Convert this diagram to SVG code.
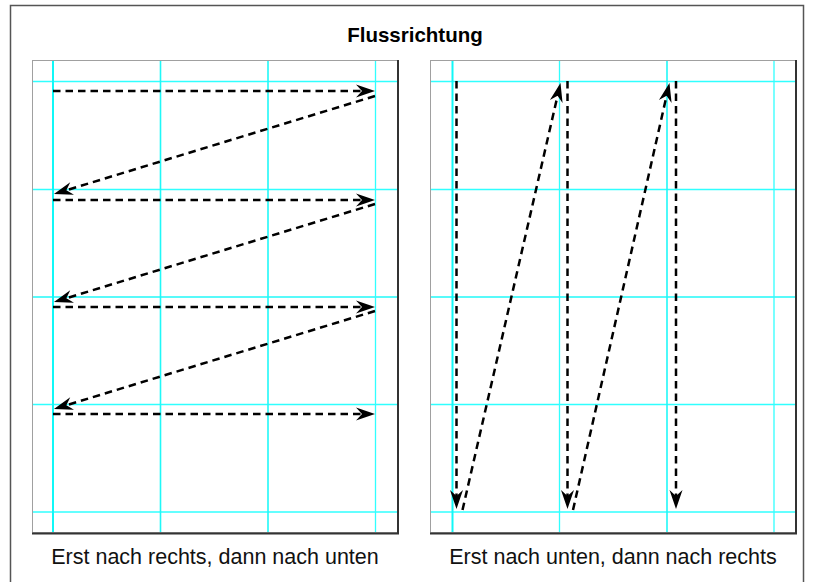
<svg xmlns="http://www.w3.org/2000/svg" width="814" height="582" viewBox="0 0 814 582">
  <style>
    .frame{fill:none;stroke:#555;stroke-width:1.5}
    .panel{fill:#fff;stroke:#a0a0a0;stroke-width:1}
    .shadow{fill:none;stroke:#333;stroke-width:2}
    .g1{stroke:#30ffff;stroke-width:1.3}
    .g2{stroke:#10f8f8;stroke-width:2}
    .g15{stroke:#20f8f8;stroke-width:1.6}
    .arr{fill:none;stroke:#000;stroke-width:2.5;stroke-dasharray:7.5 5;marker-end:url(#ah)}
    .title{font-family:"Liberation Sans",Arial,sans-serif;font-weight:bold;font-size:20.5px;fill:#000;text-anchor:middle}
    .cap{font-family:"Liberation Sans",Arial,sans-serif;font-size:21.5px;fill:#111;text-anchor:middle}
  </style>
  <defs>
    <marker id="ah" markerUnits="userSpaceOnUse" viewBox="-12 -8 22 16" markerWidth="22" markerHeight="16" refX="0" refY="0" orient="auto" overflow="visible">
      <path d="M8,0 L-11,-6.5 L-5,0 L-11,6.5 Z" fill="#000"/>
    </marker>
  </defs>
  <rect width="814" height="582" fill="#fff"/>
  <rect class="frame" x="10.5" y="5.5" width="793" height="600"/>
  <g id="title"><text class="title" x="415" y="42">Flussrichtung</text></g>

  <g id="panel-left">
    <rect class="panel" x="32.5" y="60.5" width="365" height="472"/>
    <g class="grid">
      <line class="g1" x1="33" y1="81.5" x2="397" y2="81.5"/>
      <line class="g1" x1="33" y1="189.5" x2="397" y2="189.5"/>
      <line class="g15" x1="33" y1="297" x2="397" y2="297"/>
      <line class="g1" x1="33" y1="404.5" x2="397" y2="404.5"/>
      <line class="g1" x1="33" y1="512" x2="397" y2="512"/>
      <line class="g2" x1="53" y1="61" x2="53" y2="532"/>
      <line class="g15" x1="160.5" y1="61" x2="160.5" y2="532"/>
      <line class="g15" x1="268" y1="61" x2="268" y2="532"/>
      <line class="g1" x1="375.5" y1="61" x2="375.5" y2="532"/>
    </g>
    <path class="shadow" d="M398,60 V533.5 H32"/>
    <text class="cap" x="215" y="564">Erst nach rechts, dann nach unten</text>
  </g>

  <g id="panel-right">
    <rect class="panel" x="430.5" y="60.5" width="365" height="472"/>
    <g class="grid">
      <line class="g1" x1="431" y1="81.5" x2="795" y2="81.5"/>
      <line class="g1" x1="431" y1="189.5" x2="795" y2="189.5"/>
      <line class="g15" x1="431" y1="297" x2="795" y2="297"/>
      <line class="g1" x1="431" y1="404.5" x2="795" y2="404.5"/>
      <line class="g1" x1="431" y1="512" x2="795" y2="512"/>
      <line class="g2" x1="452.5" y1="61" x2="452.5" y2="532"/>
      <line class="g1" x1="559.5" y1="61" x2="559.5" y2="532"/>
      <line class="g15" x1="667" y1="61" x2="667" y2="532"/>
      <line class="g1" x1="774" y1="61" x2="774" y2="532"/>
    </g>
    <path class="shadow" d="M796,60 V533.5 H430"/>
    <text class="cap" x="613" y="564">Erst nach unten, dann nach rechts</text>
  </g>

  <g id="connectors">
    <line class="arr" x1="53" y1="91" x2="367" y2="91"/>
    <line class="arr" x1="375" y1="96" x2="61.6" y2="191.7"/>
    <line class="arr" x1="53" y1="200" x2="367" y2="200"/>
    <line class="arr" x1="375" y1="204" x2="61.6" y2="299.7"/>
    <line class="arr" x1="53" y1="307" x2="367" y2="307"/>
    <line class="arr" x1="375" y1="311" x2="61.6" y2="406.7"/>
    <line class="arr" x1="53" y1="414" x2="367" y2="414"/>

    <line class="arr" x1="456.5" y1="81" x2="456.5" y2="501"/>
    <line class="arr" x1="462.5" y1="510" x2="558.7" y2="90.8"/>
    <line class="arr" x1="567.5" y1="81" x2="567.5" y2="501"/>
    <line class="arr" x1="573" y1="510" x2="667.7" y2="90.8"/>
    <line class="arr" x1="676" y1="81" x2="676" y2="501"/>
  </g>
</svg>
